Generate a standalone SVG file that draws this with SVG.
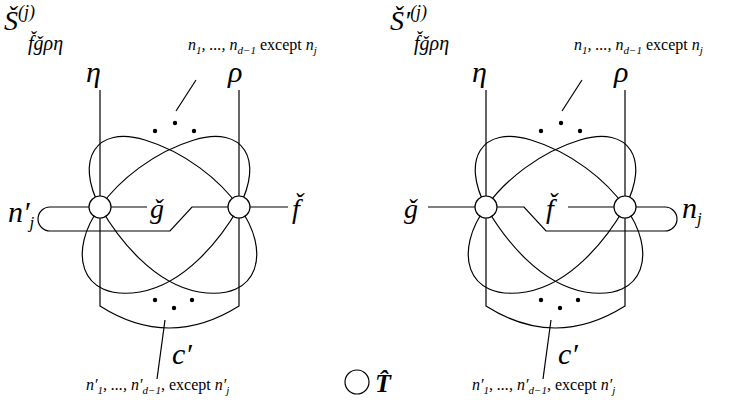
<svg xmlns="http://www.w3.org/2000/svg" width="747" height="411" viewBox="0 0 747 411">
<style>
.l{fill:none;stroke:#000;stroke-width:1.2}
.n{fill:#fff;stroke:#000;stroke-width:1.2}
.t{font-family:"Liberation Serif","DejaVu Serif",serif;font-style:italic;fill:#000}
.r{font-family:"Liberation Serif","DejaVu Serif",serif;font-style:normal}
</style>
<defs>
<g id="petals">
<path class="l" d="M100,207 C75,160 95,125 145,140 C185,152 220,180 239,207"/>
<path class="l" d="M239,207 C264,160 244,125 194,140 C154,152 119,180 100,207"/>
<path class="l" d="M100,207 C68,250 78,302 140,292 C185,284 220,240 239,207"/>
<path class="l" d="M239,207 C271,250 261,302 199,292 C154,284 119,240 100,207"/>
<path class="l" d="M100,90 V306 Q169,350 239,306 V90"/>
<circle cx="175" cy="123" r="2.2"/><circle cx="155" cy="131" r="2.2"/><circle cx="194" cy="131" r="2.2"/>
<circle cx="155" cy="300" r="2.2"/><circle cx="174" cy="308" r="2.2"/><circle cx="192" cy="300" r="2.2"/>
</g>
</defs>
<g id="connectors">
<use href="#petals"/>
<use href="#petals" x="386"/>
<path class="l" d="M89,207 H50 A12,12 0 0 0 50,231 H170 L192,207 H228"/>
<path class="l" d="M111,207 H147"/>
<path class="l" d="M250,207 H288"/>
<path class="l" d="M196,80 L176,111"/>
<path class="l" d="M165,320 L157,379"/>
<path class="l" d="M428,207 H475"/>
<path class="l" d="M497,207 H524 L546,231 H665 A12,12 0 0 0 665,207 H636"/>
<path class="l" d="M568,207 H614"/>
<path class="l" d="M582,80 L562,111"/>
<path class="l" d="M551,320 L543,379"/>
</g>
<g id="nodeL1"><circle class="n" cx="100" cy="207" r="11"/></g>
<g id="nodeL2"><circle class="n" cx="239" cy="207" r="11"/></g>
<g id="nodeR1"><circle class="n" cx="486" cy="207" r="11"/></g>
<g id="nodeR2"><circle class="n" cx="625" cy="207" r="11"/></g>
<g id="legend"><circle class="n" cx="357" cy="382" r="12"/><text class="t" x="375" y="392" font-size="26" font-weight="bold">T̂</text></g>
<g id="labels">
<text class="t" x="4" y="30" font-size="28">Š<tspan font-size="18" dy="-12">(j)</tspan></text>
<text class="t" x="28" y="50" font-size="20">f̌ǧρη</text>
<text class="t" x="86" y="82" font-size="30">η</text>
<text class="t" x="228" y="82" font-size="30">ρ</text>
<text class="t" x="188" y="50" font-size="16">n<tspan font-size="11" dy="4">1</tspan><tspan dy="-4">, ..., n</tspan><tspan font-size="11" dy="4">d−1</tspan><tspan class="r" dy="-4"> except </tspan>n<tspan font-size="11" dy="4">j</tspan></text>
<text class="t" x="8" y="222" font-size="30">n′<tspan font-size="17" dy="6">j</tspan></text>
<text class="t" x="150" y="218" font-size="28">ǧ</text>
<text class="t" x="292" y="218" font-size="28">f̌</text>
<text class="t" x="172" y="364" font-size="30">c′</text>
<text class="t" x="86" y="390" font-size="16">n′<tspan font-size="11" dy="4">1</tspan><tspan dy="-4">, ..., n′</tspan><tspan font-size="11" dy="4">d−1</tspan><tspan class="r" dy="-4">, except </tspan>n′<tspan font-size="11" dy="4">j</tspan></text>
<text class="t" x="390" y="30" font-size="28">Š′<tspan font-size="18" dy="-12">(j)</tspan></text>
<text class="t" x="414" y="50" font-size="20">f̌ǧρη</text>
<text class="t" x="472" y="82" font-size="30">η</text>
<text class="t" x="614" y="82" font-size="30">ρ</text>
<text class="t" x="574" y="50" font-size="16">n<tspan font-size="11" dy="4">1</tspan><tspan dy="-4">, ..., n</tspan><tspan font-size="11" dy="4">d−1</tspan><tspan class="r" dy="-4"> except </tspan>n<tspan font-size="11" dy="4">j</tspan></text>
<text class="t" x="404" y="218" font-size="28">ǧ</text>
<text class="t" x="546" y="218" font-size="28">f̌</text>
<text class="t" x="682" y="218" font-size="30">n<tspan font-size="17" dy="6">j</tspan></text>
<text class="t" x="558" y="364" font-size="30">c′</text>
<text class="t" x="472" y="390" font-size="16">n′<tspan font-size="11" dy="4">1</tspan><tspan dy="-4">, ..., n′</tspan><tspan font-size="11" dy="4">d−1</tspan><tspan class="r" dy="-4">, except </tspan>n′<tspan font-size="11" dy="4">j</tspan></text>
</g>
</svg>
